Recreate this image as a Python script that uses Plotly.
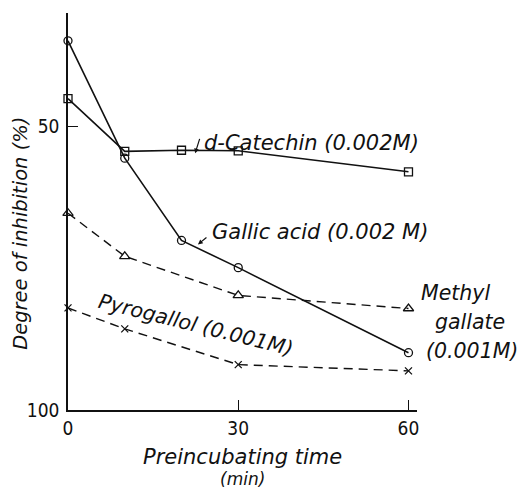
import plotly.graph_objects as go

time_all = [0, 10, 20, 30, 60]
catechin = [45.1, 54.4, 54.2, 54.3, 58.0]
gallic_acid = [34.9, 55.6, 70.1, 74.9, 89.9]
time_4 = [0, 10, 30, 60]
methyl_gallate = [65.3, 72.9, 79.8, 82.1]
pyrogallol = [82.0, 85.7, 92.0, 93.1]

x_ticks = [0, 30, 60]
y_ticks = [50, 100]

FONT = "Liberation Sans Narrow, DejaVu Sans Condensed, Liberation Sans, sans-serif"
ITAL = "DejaVu Sans, sans-serif"
BLACK = "#111111"

fig = go.Figure()
fig.add_trace(go.Scatter(x=time_all, y=catechin, mode="lines+markers",
                         line=dict(color=BLACK, width=1.6),
                         marker=dict(symbol="square-open", size=8, color=BLACK, line=dict(width=1.3)),
                         cliponaxis=False))
fig.add_trace(go.Scatter(x=time_all, y=gallic_acid, mode="lines+markers",
                         line=dict(color=BLACK, width=1.6),
                         marker=dict(symbol="circle-open", size=8, color=BLACK, line=dict(width=1.3)),
                         cliponaxis=False))
fig.add_trace(go.Scatter(x=time_4, y=methyl_gallate, mode="lines+markers",
                         line=dict(color=BLACK, width=1.4, dash="9px,6px"),
                         marker=dict(symbol="triangle-up-open", size=9, color=BLACK, line=dict(width=1.3)),
                         cliponaxis=False))
fig.add_trace(go.Scatter(x=time_4, y=pyrogallol, mode="lines+markers",
                         line=dict(color=BLACK, width=1.4, dash="9px,6px"),
                         marker=dict(symbol="x-thin-open", size=7, color=BLACK, line=dict(width=1.3)),
                         cliponaxis=False))

ann = []
def label(text, x, y, ref="data", xanchor="left", angle=0, size=21):
    r = ("x", "y") if ref == "data" else ("paper", "paper")
    ann.append(dict(text="<i>" + text + "</i>", x=x, y=y, xref=r[0], yref=r[1],
                    showarrow=False, xanchor=xanchor, yanchor="middle", textangle=angle,
                    font=dict(family=ITAL, size=size, color=BLACK)))

label("d-Catechin (0.002M)", 23.6, 53.0, size=21)
label("Gallic acid (0.002 M)", 25.0, 68.6, size=21)
label("Methyl", 1.109, 0.295, ref="paper", xanchor="center", size=20.5)
label("gallate", 1.152, 0.222, ref="paper", xanchor="center", size=20.5)
label("(0.001M)", 1.158, 0.148, ref="paper", xanchor="center", size=20.5)
label("Pyrogallol (0.001M)", 22.6, 85.0, xanchor="center", angle=14, size=20.5)
label("Degree of inhibition (%)", -0.135, 0.446, ref="paper", xanchor="center", angle=-90, size=19.5)
label("Preincubating time", 0.501, -0.118, ref="paper", xanchor="center", size=21)
label("(min)", 0.501, -0.173, ref="paper", xanchor="center", size=17)

for hx, hy, ax, ay in [(22.4, 54.75, 5, -16), (22.9, 70.8, 10, -8)]:
    ann.append(dict(text="", x=hx, y=hy, xref="x", yref="y", showarrow=True,
                    ax=ax, ay=ay, arrowhead=2, arrowsize=0.8, arrowwidth=1.2,
                    arrowcolor=BLACK))

fig.update_layout(
    width=520, height=490,
    margin=dict(l=68, r=103, t=13, b=80),
    paper_bgcolor="white", plot_bgcolor="white",
    showlegend=False,
    annotations=ann,
    font=dict(family=FONT, size=19, color=BLACK),
    xaxis=dict(range=[0, 61.5], tickvals=x_ticks, ticks="inside", ticklen=10,
               tickwidth=1.3, tickcolor=BLACK, showline=True, linecolor=BLACK,
               linewidth=1.6, showgrid=False, zeroline=False, ticklabelstandoff=0),
    yaxis=dict(range=[100, 30], tickvals=y_ticks, ticks="inside", ticklen=10,
               tickwidth=1.3, tickcolor=BLACK, showline=True, linecolor=BLACK,
               linewidth=1.6, showgrid=False, zeroline=False, ticklabelstandoff=3),
)

fig.write_html("out.html")
